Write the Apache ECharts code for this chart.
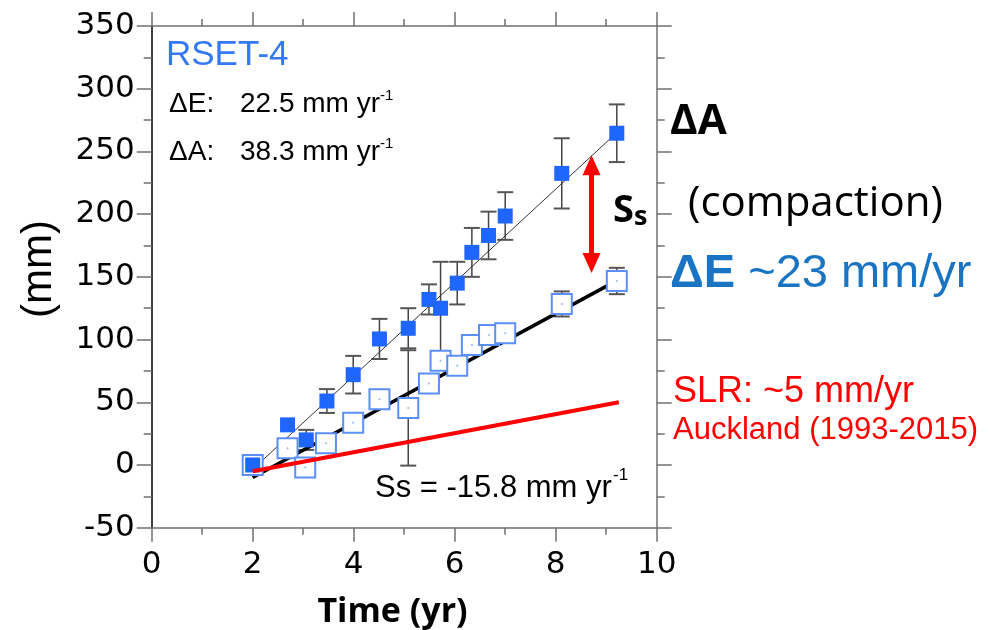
<!DOCTYPE html>
<html>
<head>
<meta charset="utf-8">
<script src="https://cdn.jsdelivr.net/npm/echarts@6/dist/echarts.min.js"></script>
<style>
  html, body { margin: 0; padding: 0; background: #fff; }
  #chart { width: 989px; height: 630px; }
</style>
</head>
<body>
<div id="chart"></div>
<script>
// ΔA (filled squares): time, value, error
var timeA = [2.0, 2.69, 3.06, 3.47, 3.99, 4.51, 5.08, 5.49, 5.72, 6.05, 6.34, 6.67, 7.0, 8.12, 9.21];
var valA = [0, 32, 20, 51, 72, 100.5, 109, 132, 125, 145, 169.5, 183, 198.5, 232.5, 264.5];
var errA = [0, 0, 8, 9.5, 15, 16, 16, 12, 37, 17, 19.5, 19, 19, 28, 23];
// ΔE (open squares)
var timeE = [2.0, 2.69, 3.04, 3.45, 3.99, 4.51, 5.08, 5.49, 5.72, 6.05, 6.34, 6.68, 7.0, 8.12, 9.21];
var valE = [0, 13.3, -2, 17.3, 33.7, 52.4, 45.5, 65, 83.2, 79.2, 95.7, 103.7, 105, 128.4, 146.7];
var errE = [0, 5, 5, 5, 5, 5, 46, 5, 5, 5, 5, 5, 5, 10, 10.5];
// fit lines and sea level rise
var fitAx = [2.0, 9.21], fitAy = [-3.5, 265];
var fitEx = [2.0, 9.21], fitEy = [-10, 147];
var slrX = [2.0, 9.25], slrY = [-5, 50];
// Ss arrow (x, from, to)
var arrowX = 8.71, arrowY = [161, 239];

var chart = echarts.init(document.getElementById('chart'));

function pairs(xs, ys) {
  var out = [];
  for (var i = 0; i < xs.length; i++) out.push([xs[i], ys[i]]);
  return out;
}
function errData(xs, ys, es) {
  var out = [];
  for (var i = 0; i < xs.length; i++) {
    if (es[i] > 0) out.push([xs[i], ys[i] - es[i], ys[i] + es[i]]);
  }
  return out;
}
function errItem(params, api) {
  var p1 = api.coord([api.value(0), api.value(2)]);
  var p2 = api.coord([api.value(0), api.value(1)]);
  var w = 8;
  return {
    type: 'group',
    children: [
      { type: 'line', shape: { x1: p1[0], y1: p1[1], x2: p2[0], y2: p2[1] }, style: { stroke: '#444', lineWidth: 1.5 } },
      { type: 'line', shape: { x1: p1[0] - w, y1: p1[1], x2: p1[0] + w, y2: p1[1] }, style: { stroke: '#555', lineWidth: 2 } },
      { type: 'line', shape: { x1: p2[0] - w, y1: p2[1], x2: p2[0] + w, y2: p2[1] }, style: { stroke: '#555', lineWidth: 2 } }
    ]
  };
}

var tickFont = { fontFamily: 'DejaVu Sans', fontSize: 31, color: '#000' };
var gray = '#707070';

function txt(x, y, text, size, color, family, weight) {
  return {
    type: 'text', x: x, y: y, z: 100,
    style: {
      text: text, fontSize: size, fill: color || '#000',
      fontFamily: family || 'Liberation Sans', fontWeight: weight || 'normal',
      verticalAlign: 'middle', align: 'left'
    }
  };
}
function axisBase(extra) {
  return Object.assign({
    type: 'value',
    axisLine: { show: true, onZero: false, lineStyle: { color: gray, width: 1.5 } },
    axisTick: { show: true, length: 14, lineStyle: { color: gray, width: 1.5 } },
    minorTick: { show: true, splitNumber: 2, length: 7, lineStyle: { color: gray, width: 1.5 } },
    splitLine: { show: false },
    axisLabel: { show: false }
  }, extra);
}

var option = {
  animation: false,
  backgroundColor: '#fff',
  grid: { left: 151.7, right: 332.3, top: 26, bottom: 102.3 },
  xAxis: [
    axisBase({ min: 0, max: 10, interval: 2, position: 'bottom',
      axisLabel: Object.assign({ show: true, margin: 22 }, tickFont) }),
    axisBase({ min: 0, max: 10, interval: 2, position: 'top' })
  ],
  yAxis: [
    axisBase({ min: -50, max: 350, interval: 50, position: 'left',
      axisLine: { show: true, onZero: false, lineStyle: { color: '#000', width: 1.5 } },
      axisTick: { show: true, length: 15, lineStyle: { color: gray, width: 1.5 } },
      minorTick: { show: true, splitNumber: 2, length: 8, lineStyle: { color: gray, width: 1.5 } },
      axisLabel: Object.assign({ show: true, margin: 17 }, tickFont) }),
    axisBase({ min: -50, max: 350, interval: 50, position: 'right',
      axisTick: { show: true, length: 15, lineStyle: { color: gray, width: 1.5 } },
      minorTick: { show: true, splitNumber: 2, length: 8, lineStyle: { color: gray, width: 1.5 } } })
  ],
  series: [
    { type: 'custom', z: 1, renderItem: errItem, data: errData(timeA, valA, errA) },
    { type: 'custom', z: 1, renderItem: errItem, data: errData(timeE, valE, errE) },
    { type: 'line', z: 2, symbol: 'none', data: pairs(fitAx, fitAy),
      lineStyle: { color: '#333', width: 1 } },
    { type: 'line', z: 2, symbol: 'none', data: pairs(fitEx, fitEy),
      lineStyle: { color: '#000', width: 3.5 } },
    { type: 'scatter', z: 3, symbol: 'rect', symbolSize: 20, data: pairs(timeE, valE),
      itemStyle: { color: '#fff', borderColor: '#5b8ff5', borderWidth: 2, opacity: 1 } },
    { type: 'scatter', z: 3.5, symbol: 'circle', symbolSize: 2, data: pairs(timeE, valE),
      itemStyle: { color: '#7aa4f2' } },
    { type: 'scatter', z: 4, symbol: 'rect', symbolSize: 15, data: pairs(timeA, valA),
      itemStyle: { color: '#1f66ff', opacity: 1 } },
    { type: 'line', z: 5, symbol: 'none', data: pairs(slrX, slrY),
      lineStyle: { color: '#ff0000', width: 4 },
      markLine: {
        silent: true, symbol: ['triangle', 'triangle'], symbolSize: [18, 20],
        label: { show: false },
        lineStyle: { color: '#ff0000', width: 5, type: 'solid' },
        data: [[{ coord: [arrowX, arrowY[0]] }, { coord: [arrowX, arrowY[1]] }]]
      } }
  ],
  graphic: [
    {
      type: 'text', x: 39, y: 269, rotation: Math.PI / 2, z: 100,
      style: { text: '(mm)', fontFamily: 'Liberation Sans', fontSize: 42, fill: '#000',
        align: 'center', verticalAlign: 'middle' }
    },
    txt(166, 55, 'RSET-4', 35, '#3478f6'),
    txt(169, 104, 'ΔE:', 28),
    txt(240, 104, '22.5 mm yr', 28),
    txt(380, 96, '-1', 15),
    txt(169, 152.5, 'ΔA:', 28),
    txt(240, 152.5, '38.3 mm yr', 28),
    txt(380, 144, '-1', 15),
    txt(375, 488.5, 'Ss = -15.8 mm yr', 31),
    txt(613, 475, '-1', 17),
    {
      type: 'text', x: 613, y: 211, z: 100,
      style: {
        text: '{a|S}{b|s}', verticalAlign: 'middle', align: 'left',
        rich: {
          a: { fontFamily: 'Open Sans', fontWeight: 'bold', fontSize: 38, fill: '#000' },
          b: { fontFamily: 'Open Sans', fontWeight: 'bold', fontSize: 27, fill: '#000', padding: [12, 0, 0, 0] }
        }
      }
    },
    txt(670, 121.7, 'ΔA', 42, '#000', 'Open Sans', 'bold'),
    txt(688, 204, '(compaction)', 42, '#000', 'Open Sans'),
    {
      type: 'text', x: 670, y: 274.5, z: 100,
      style: {
        text: '{a|ΔE}{b| ~23 mm/yr}', verticalAlign: 'middle', align: 'left',
        rich: {
          a: { fontFamily: 'Liberation Sans', fontWeight: 'bold', fontSize: 47, fill: '#1a74c4' },
          b: { fontFamily: 'Liberation Sans', fontSize: 47, fill: '#1a74c4' }
        }
      }
    },
    txt(673, 391.7, 'SLR: ~5 mm/yr', 36, '#ff0000'),
    txt(673, 430.8, 'Auckland (1993-2015)', 31, '#ff0000'),
    {
      type: 'text', x: 392.5, y: 612.8, z: 100,
      style: { text: 'Time (yr)', fontFamily: 'Open Sans', fontWeight: 'bold', fontSize: 34, fill: '#000',
        align: 'center', verticalAlign: 'middle' }
    }
  ]
};
chart.setOption(option);
</script>
</body>
</html>
